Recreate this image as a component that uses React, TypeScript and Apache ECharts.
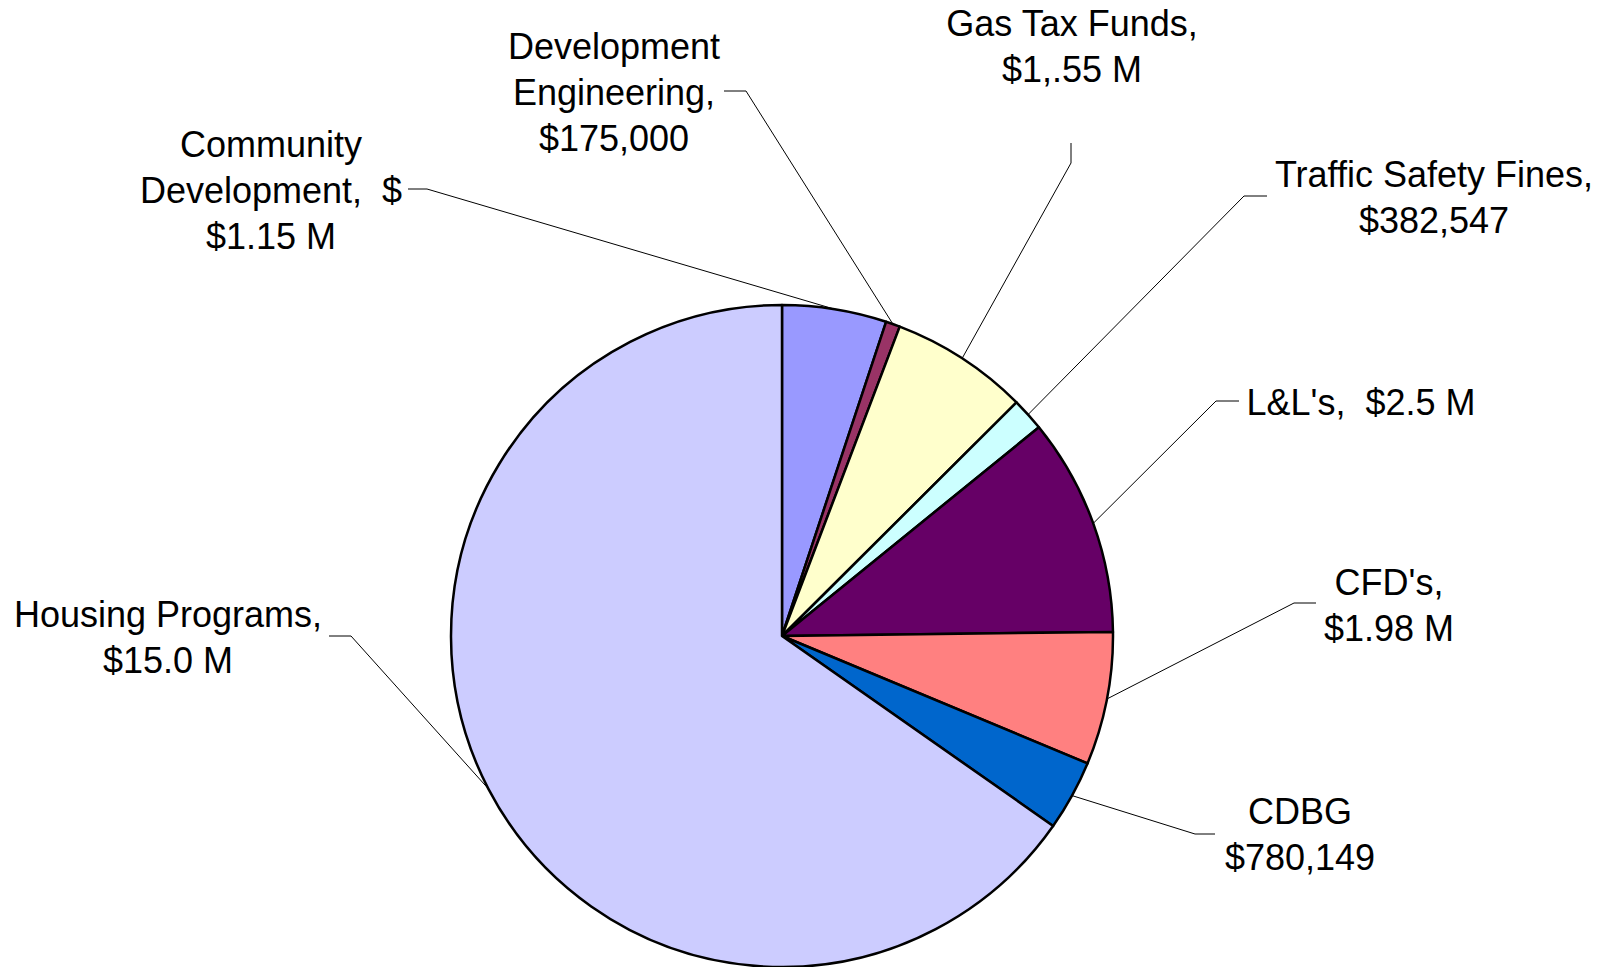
import React, { useEffect, useRef } from "react";
import * as echarts from "echarts";

const categories = [
  "Community Development",
  "Development Engineering",
  "Gas Tax Funds",
  "Traffic Safety Fines",
  "L&L's",
  "CFD's",
  "CDBG",
  "Housing Programs",
];
// slice sizes (millions)
const values = [1.17, 0.16, 1.55, 0.37, 2.45, 1.49, 0.79, 15.0];
const labelTexts = [
  "Community\nDevelopment,  $\n$1.15 M",
  "Development\nEngineering,\n$175,000",
  "Gas Tax Funds,\n$1,.55 M",
  "Traffic Safety Fines,\n$382,547",
  "L&L's,  $2.5 M",
  "CFD's,\n$1.98 M",
  "CDBG\n$780,149",
  "Housing Programs,\n$15.0 M",
];
const colors = ["#9999FF", "#993366", "#FFFFCC", "#CCFFFF", "#660066", "#FF8080", "#0066CC", "#CCCCFF"];

// label block centre, leader bend point, leader end point (pixels)
const labelPlacement = [
  { x: 271, y: 190, bx: 427, by: 189, ex: 408, ey: 189 },
  { x: 614, y: 92, bx: 746, by: 91, ex: 724, ey: 91 },
  { x: 1072, y: 46, bx: 1071, by: 163, ex: 1071, ey: 143 },
  { x: 1434, y: 197, bx: 1244, by: 196, ex: 1267, ey: 196 },
  { x: 1361, y: 402, bx: 1216, by: 401, ex: 1239, ey: 401 },
  { x: 1389, y: 605, bx: 1294, by: 603, ex: 1316, ey: 603 },
  { x: 1300, y: 834, bx: 1195, by: 834, ex: 1215, ey: 834 },
  { x: 168, y: 637, bx: 351, by: 636, ex: 329, ey: 636 },
];

const CX = 782;
const CY = 636;
const R = 331;

export default function App() {
  const ref = useRef<HTMLDivElement>(null);
  useEffect(() => {
    if (!ref.current) return;
    const chart = echarts.init(ref.current, null, { renderer: "svg" });
    const total = values.reduce((a, b) => a + b, 0);
    const option = {
      animation: false,
      backgroundColor: "#ffffff",
      series: [
        {
          type: "pie",
          center: [CX, CY],
          radius: [0, R],
          startAngle: 90,
          clockwise: true,
          avoidLabelOverlap: false,
          data: categories.map((name, i) => ({
            name,
            value: values[i],
            itemStyle: { color: colors[i] },
          })),
          itemStyle: { borderColor: "#000000", borderWidth: 2.5 },
          label: {
            show: true,
            position: "outside",
            formatter: (p: any) => labelTexts[p.dataIndex],
            fontFamily: "Liberation Sans, Arial, sans-serif",
            fontSize: 36,
            lineHeight: 46,
            color: "#000000",
            align: "center",
          },
          labelLine: {
            show: true,
            length: 20,
            length2: 20,
            lineStyle: { color: "#000000", width: 1 },
          },
          labelLayout: (params: any) => {
            const i = params.dataIndex;
            const p = labelPlacement[i];
            let start = params.labelLinePoints && params.labelLinePoints[0];
            if (!start) {
              let cum = 0;
              for (let k = 0; k < i; k++) cum += values[k];
              const mid = ((cum + values[i] / 2) / total) * Math.PI * 2;
              start = [CX + R * Math.sin(mid), CY - R * Math.cos(mid)];
            }
            return {
              x: p.x,
              y: p.y,
              align: "center",
              verticalAlign: "middle",
              labelLinePoints: [start, [p.bx, p.by], [p.ex, p.ey]],
            };
          },
          emphasis: { disabled: true },
        },
      ],
    };
    chart.setOption(option as any);
    return () => chart.dispose();
  }, []);
  return (
    <div
      ref={ref}
      style={{ position: "absolute", left: 0, top: 0, width: 1610, height: 967, background: "#fff" }}
    />
  );
}
